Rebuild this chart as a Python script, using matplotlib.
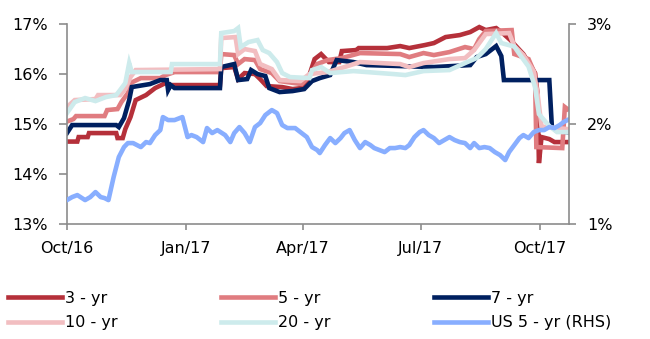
import matplotlib
matplotlib.use("Agg")
import matplotlib.pyplot as plt
import matplotlib.dates as mdates
import pandas as pd

plt.rcParams['font.family'] = ['DejaVu Sans']

# --- Local yields (LHS, %) ---
yr3_dates = ["2016-10-01", "2016-10-09", "2016-10-10", "2016-10-17", "2016-10-18", "2016-11-08",
             "2016-11-09", "2016-11-13", "2016-11-15", "2016-11-19", "2016-11-23", "2016-12-01",
             "2016-12-08", "2016-12-16", "2016-12-20", "2017-01-27", "2017-01-28", "2017-02-07",
             "2017-02-10", "2017-02-15", "2017-02-23", "2017-02-27", "2017-03-04", "2017-03-16",
             "2017-03-24", "2017-03-31", "2017-04-05", "2017-04-10", "2017-04-15", "2017-04-21",
             "2017-04-29", "2017-05-01", "2017-05-12", "2017-05-14", "2017-06-05", "2017-06-15",
             "2017-06-22", "2017-07-04", "2017-07-11", "2017-07-20", "2017-07-31", "2017-08-08",
             "2017-08-15", "2017-08-20", "2017-08-28", "2017-09-02", "2017-09-08", "2017-09-18",
             "2017-09-27", "2017-09-29", "2017-09-30", "2017-10-02", "2017-10-08", "2017-10-12",
             "2017-10-22"]
yr3_vals = [14.65, 14.65, 14.74, 14.74, 14.82, 14.82, 14.72, 14.72, 14.90, 15.14, 15.48, 15.58,
            15.72, 15.82, 15.78, 15.78, 16.12, 16.14, 15.90, 16.02, 16.00, 15.90, 15.76, 15.74,
            15.70, 15.72, 15.90, 16.30, 16.40, 16.24, 16.24, 16.46, 16.48, 16.52, 16.52, 16.56,
            16.52, 16.58, 16.62, 16.74, 16.78, 16.84, 16.94, 16.88, 16.92, 16.82, 16.68, 16.40,
            16.02, 15.60, 14.22, 14.74, 14.70, 14.64, 14.64]

yr5_dates = ["2016-10-01", "2016-10-06", "2016-10-08", "2016-10-30", "2016-11-01", "2016-11-09",
             "2016-11-12", "2016-11-17", "2016-11-19", "2016-11-27", "2016-12-12", "2016-12-16",
             "2016-12-23", "2017-01-27", "2017-01-28", "2017-02-07", "2017-02-10", "2017-02-15",
             "2017-02-23", "2017-02-27", "2017-03-08", "2017-03-14", "2017-03-31", "2017-04-06",
             "2017-04-12", "2017-04-20", "2017-05-01", "2017-05-15", "2017-06-15", "2017-06-22",
             "2017-07-03", "2017-07-11", "2017-07-23", "2017-08-04", "2017-08-11", "2017-08-15",
             "2017-08-20", "2017-09-09", "2017-09-11", "2017-09-22", "2017-09-27", "2017-09-28",
             "2017-10-18", "2017-10-20", "2017-10-22"]
yr5_vals = [15.05, 15.10, 15.16, 15.16, 15.28, 15.30, 15.44, 15.62, 15.82, 15.92, 15.92, 15.98,
            16.04, 16.04, 16.40, 16.38, 16.20, 16.30, 16.28, 16.10, 16.02, 15.86, 15.80, 15.96,
            16.20, 16.28, 16.32, 16.42, 16.40, 16.34, 16.42, 16.38, 16.44, 16.54, 16.50, 16.70,
            16.86, 16.88, 16.40, 16.30, 16.00, 14.54, 14.52, 15.34, 15.30]

yr7_dates = ["2016-10-01", "2016-10-05", "2016-11-08", "2016-11-10", "2016-11-14", "2016-11-18",
             "2016-11-20", "2016-12-04", "2016-12-12", "2016-12-17", "2016-12-18", "2016-12-20",
             "2016-12-23", "2017-01-27", "2017-01-28", "2017-02-07", "2017-02-10", "2017-02-17",
             "2017-02-20", "2017-02-25", "2017-03-03", "2017-03-06", "2017-03-14", "2017-03-24",
             "2017-04-02", "2017-04-08", "2017-04-14", "2017-04-22", "2017-04-27", "2017-05-10",
             "2017-05-20", "2017-06-15", "2017-07-11", "2017-08-08", "2017-08-13", "2017-08-20",
             "2017-08-28", "2017-09-01", "2017-09-03", "2017-10-08", "2017-10-10", "2017-10-14",
             "2017-10-22"]
yr7_vals = [14.82, 14.98, 14.98, 14.94, 15.12, 15.48, 15.74, 15.80, 15.88, 15.88, 15.68, 15.78,
            15.72, 15.72, 16.14, 16.20, 15.88, 15.90, 16.08, 16.00, 15.96, 15.72, 15.64, 15.66,
            15.70, 15.86, 15.92, 15.98, 16.28, 16.24, 16.18, 16.16, 16.14, 16.18, 16.34, 16.40,
            16.56, 16.36, 15.88, 15.88, 14.94, 14.86, 14.84]

yr10_dates = ["2016-10-01", "2016-10-07", "2016-10-23", "2016-10-25", "2016-11-11", "2016-11-15",
              "2016-11-19", "2016-11-23", "2017-01-27", "2017-01-28", "2017-02-08", "2017-02-10",
              "2017-02-15", "2017-02-23", "2017-02-27", "2017-03-08", "2017-03-14", "2017-03-30",
              "2017-04-06", "2017-04-20", "2017-05-03", "2017-05-15", "2017-06-15", "2017-06-22",
              "2017-07-03", "2017-07-23", "2017-08-04", "2017-08-11", "2017-08-20", "2017-09-07",
              "2017-09-11", "2017-09-18", "2017-09-26", "2017-09-29", "2017-10-02", "2017-10-22"]
yr10_vals = [15.34, 15.48, 15.50, 15.58, 15.58, 15.70, 15.94, 16.08, 16.10, 16.72, 16.74, 16.40,
             16.50, 16.46, 16.20, 16.10, 15.88, 15.86, 16.00, 16.04, 16.14, 16.24, 16.20, 16.14,
             16.22, 16.30, 16.32, 16.48, 16.80, 16.82, 16.56, 16.38, 16.05, 15.60, 14.95, 14.90]

yr20_dates = ["2016-10-01", "2016-10-07", "2016-10-15", "2016-10-23", "2016-10-31", "2016-11-08",
              "2016-11-11", "2016-11-15", "2016-11-18", "2016-11-20", "2016-12-20", "2016-12-21",
              "2017-01-27", "2017-01-28", "2017-02-07", "2017-02-10", "2017-02-12", "2017-02-18",
              "2017-02-25", "2017-03-01", "2017-03-06", "2017-03-12", "2017-03-16", "2017-03-22",
              "2017-04-06", "2017-04-08", "2017-04-15", "2017-04-22", "2017-05-10", "2017-06-10",
              "2017-06-19", "2017-07-03", "2017-07-23", "2017-08-04", "2017-08-13", "2017-08-20",
              "2017-08-28", "2017-09-01", "2017-09-11", "2017-09-15", "2017-09-22", "2017-09-27",
              "2017-09-30", "2017-10-08", "2017-10-14", "2017-10-22"]
yr20_vals = [15.22, 15.44, 15.52, 15.46, 15.54, 15.58, 15.68, 15.82, 16.22, 16.04, 16.04, 16.20,
             16.20, 16.82, 16.86, 16.92, 16.54, 16.64, 16.68, 16.48, 16.42, 16.24, 16.02, 15.94,
             15.92, 16.08, 16.14, 16.02, 16.06, 16.00, 15.98, 16.06, 16.08, 16.22, 16.32, 16.50,
             16.82, 16.62, 16.55, 16.40, 16.15, 15.74, 15.20, 14.96, 14.84, 14.84]

# --- US 5-year Treasury yield (RHS, %) ---
us5_dates = ["2016-10-01", "2016-10-05", "2016-10-09", "2016-10-15", "2016-10-19", "2016-10-23",
             "2016-10-27", "2016-10-30", "2016-11-02", "2016-11-06", "2016-11-10", "2016-11-14",
             "2016-11-17", "2016-11-21", "2016-11-27", "2016-12-01", "2016-12-04", "2016-12-08",
             "2016-12-12", "2016-12-14", "2016-12-18", "2016-12-23", "2016-12-29", "2017-01-02",
             "2017-01-05", "2017-01-09", "2017-01-14", "2017-01-17", "2017-01-21", "2017-01-25",
             "2017-01-31", "2017-02-04", "2017-02-07", "2017-02-11", "2017-02-15", "2017-02-19",
             "2017-02-23", "2017-02-27", "2017-03-03", "2017-03-08", "2017-03-12", "2017-03-16",
             "2017-03-20", "2017-03-26", "2017-03-31", "2017-04-04", "2017-04-08", "2017-04-12",
             "2017-04-14", "2017-04-18", "2017-04-22", "2017-04-26", "2017-04-30", "2017-05-03",
             "2017-05-07", "2017-05-11", "2017-05-15", "2017-05-19", "2017-05-23", "2017-05-26",
             "2017-05-30", "2017-06-03", "2017-06-07", "2017-06-11", "2017-06-15", "2017-06-19",
             "2017-06-22", "2017-06-26", "2017-06-30", "2017-07-03", "2017-07-07", "2017-07-11",
             "2017-07-15", "2017-07-19", "2017-07-23", "2017-07-27", "2017-07-31", "2017-08-04",
             "2017-08-08", "2017-08-11", "2017-08-15", "2017-08-19", "2017-08-23", "2017-08-27",
             "2017-08-31", "2017-09-04", "2017-09-07", "2017-09-11", "2017-09-15", "2017-09-18",
             "2017-09-22", "2017-09-26", "2017-09-30", "2017-10-04", "2017-10-08", "2017-10-12",
             "2017-10-16", "2017-10-19", "2017-10-22"]
us5_vals = [1.24, 1.27, 1.29, 1.24, 1.27, 1.32, 1.27, 1.26, 1.24, 1.47, 1.67, 1.77,
            1.81, 1.81, 1.77, 1.82, 1.81, 1.89, 1.94, 2.07, 2.04, 2.04, 2.07, 1.87,
            1.89, 1.87, 1.82, 1.96, 1.91, 1.94, 1.89, 1.82, 1.91, 1.97, 1.91, 1.82,
            1.97, 2.01, 2.09, 2.14, 2.11, 1.99, 1.96, 1.96, 1.91, 1.87, 1.77, 1.74,
            1.71, 1.79, 1.86, 1.81, 1.86, 1.91, 1.94, 1.84, 1.76, 1.82, 1.79, 1.76,
            1.74, 1.72, 1.76, 1.76, 1.77, 1.76, 1.79, 1.87, 1.92, 1.94, 1.89, 1.86,
            1.81, 1.84, 1.87, 1.84, 1.82, 1.81, 1.76, 1.81, 1.76, 1.77, 1.76, 1.72,
            1.69, 1.64, 1.72, 1.79, 1.86, 1.89, 1.86, 1.92, 1.94, 1.94, 1.97, 1.96,
            1.99, 2.02, 2.04]

x_ticks = ["2016-10-01", "2017-01-01", "2017-04-01", "2017-07-01", "2017-10-01"]
lhs_ticks = [13, 14, 15, 16, 17]
rhs_ticks = [1, 2, 3]

lhs_series = [
    ("3 - yr", yr3_dates, yr3_vals, "#B5303A"),
    ("5 - yr", yr5_dates, yr5_vals, "#E07C80"),
    ("7 - yr", yr7_dates, yr7_vals, "#002060"),
    ("10 - yr", yr10_dates, yr10_vals, "#F2BEC1"),
    ("20 - yr", yr20_dates, yr20_vals, "#CDEBEC"),
]

fig = plt.figure(figsize=(6.5, 3.39), dpi=100)
ax = fig.add_axes([0.103, 0.339, 0.772, 0.590])
ax2 = ax.twinx()

lw = 3.3
handles = []
for label, d, v, c in lhs_series:
    h, = ax.plot(pd.to_datetime(d), v, color=c, lw=lw, label=label,
                 solid_joinstyle="miter")
    handles.append(h)
hus, = ax2.plot(pd.to_datetime(us5_dates), us5_vals, color="#88AEFF", lw=lw,
                label="US 5 - yr (RHS)")
handles.append(hus)

ax.set_xlim(pd.Timestamp("2016-10-01"), pd.Timestamp("2017-10-23"))
ax.set_ylim(13, 17)
ax2.set_ylim(1, 3)
ax.set_yticks(lhs_ticks)
ax.set_yticklabels([f"{t}%" for t in lhs_ticks])
ax2.set_yticks(rhs_ticks)
ax2.set_yticklabels([f"{t}%" for t in rhs_ticks])
ax.set_xticks(pd.to_datetime(x_ticks))
ax.xaxis.set_major_formatter(mdates.DateFormatter("%b/%y"))

spine_c = "#8C8C8C"
for a in (ax, ax2):
    a.spines["top"].set_visible(False)
    for s in ("left", "right", "bottom"):
        a.spines[s].set_color(spine_c)
        a.spines[s].set_linewidth(1.2)
ax.spines["right"].set_visible(False)
ax2.spines["left"].set_visible(False)
ax2.spines["bottom"].set_visible(False)

fs = 11.5
ax.tick_params(axis="y", direction="out", length=6, width=1.2, color=spine_c,
               labelsize=fs, pad=8)
ax2.tick_params(axis="y", direction="out", length=5, width=1.2, color=spine_c,
                labelsize=fs, pad=8)
ax.tick_params(axis="x", direction="out", length=4, width=1.2, color=spine_c,
               labelsize=fs, pad=8)

# legend filled column by column -> reorder so rows read 3/5/7 then 10/20/US
order = [0, 3, 1, 4, 2, 5]
fig.legend(handles=[handles[i] for i in order], loc="upper left",
           bbox_to_anchor=(0.012, 0.142), ncol=3, frameon=False, fontsize=fs,
           handlelength=3.4, handletextpad=0.15, columnspacing=6.5,
           labelspacing=0.6, borderaxespad=0, borderpad=0)

fig.savefig("out.png", dpi=100)
